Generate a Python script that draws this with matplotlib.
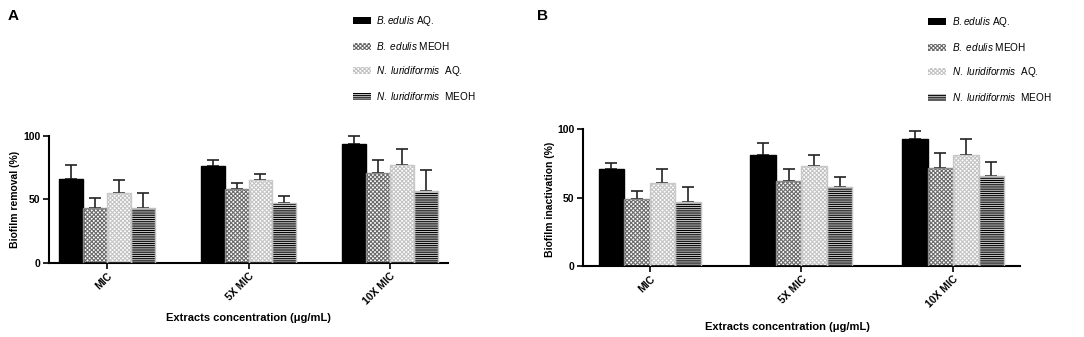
import matplotlib
matplotlib.use('Agg')
import matplotlib.pyplot as plt
import numpy as np

plt.rcParams['font.family'] = ['Liberation Sans', 'DejaVu Sans']
plt.rcParams['mathtext.fontset'] = 'custom'
plt.rcParams['mathtext.rm'] = 'Liberation Sans'
plt.rcParams['mathtext.it'] = 'Liberation Sans:italic'
plt.rcParams['hatch.linewidth'] = 0.8

groups = ['MIC', '5X MIC', '10X MIC']
series = [r'$\it{B.edulis}$ AQ.', r'$\it{B.\ edulis}$ MEOH',
          r'$\it{N.\ luridiformis}$  AQ.', r'$\it{N.\ luridiformis}$  MEOH']

# panel A: biofilm removal (%)
removal = [[66, 76, 94], [43, 58, 71], [55, 65, 77], [43, 47, 57]]
removal_err = [[11, 5, 6], [8, 5, 10], [10, 5, 13], [12, 6, 16]]
# panel B: biofilm inactivation (%)
inact = [[71, 81, 93], [49, 62, 72], [61, 73, 81], [47, 58, 66]]
inact_err = [[4, 9, 6], [6, 9, 11], [10, 8, 12], [11, 7, 10]]

face = ['black', 'white', 'white', 'white']
hatch_col = ['black', '#6a6a6a', '#c4c4c4', '#000000']
hatches = [None, 'xxxxxxxx', 'xxxxxxxx', '---------']
outline = ['black', '#8a8a8a', '#c8c8c8', '#c0c0c0']

fig = plt.figure(figsize=(10.84, 3.37), dpi=100)
axA = fig.add_axes([0.0452, 0.2196, 0.3681, 0.3769])
axB = fig.add_axes([0.5378, 0.2107, 0.4031, 0.4056])


def draw(ax, vals, errs, ylabel, xlim, xlab_xy, ylab_xy):
    x = np.arange(len(groups))
    w = 0.168
    handles = []
    for i in range(4):
        pos = x + (i - 1.5) * w
        b = ax.bar(pos, vals[i], w, color=face[i], edgecolor=hatch_col[i],
                   hatch=hatches[i], linewidth=0, zorder=2)
        ax.bar(pos, vals[i], w, fill=False, edgecolor=outline[i], linewidth=1.0, zorder=3)
        ax.errorbar(pos, vals[i], yerr=[np.zeros(3), errs[i]], fmt='none',
                    ecolor='#222222', elinewidth=1.2, capsize=4.5, capthick=1.2,
                    zorder=1, clip_on=False)
        handles.append(b)
    ax.set_xlim(*xlim)
    ax.set_ylim(0, 100)
    ax.set_yticks([0, 50, 100])
    ax.set_xticks(x)
    ax.set_xticklabels(groups, rotation=45, ha='right', rotation_mode='anchor',
                       fontsize=7.5, fontweight='bold')
    for lab in ax.get_yticklabels():
        lab.set_fontsize(7.5)
        lab.set_fontweight('bold')
    ax.tick_params(axis='both', width=1.2, length=4, pad=2)
    ax.spines['top'].set_visible(False)
    ax.spines['right'].set_visible(False)
    ax.spines['left'].set_linewidth(1.5)
    ax.spines['bottom'].set_linewidth(1.5)
    ax.set_ylabel(ylabel, fontsize=7.5, fontweight='bold')
    ax.set_xlabel(u'Extracts concentration (\u03bcg/mL)', fontsize=8, fontweight='bold')
    ax.xaxis.set_label_coords(*xlab_xy)
    ax.yaxis.set_label_coords(*ylab_xy)
    return handles


hA = draw(axA, removal, removal_err, 'Biofilm removal (%)', (-0.41, 2.41),
          (0.5, -0.39), (-0.072, 0.5))
hB = draw(axB, inact, inact_err, 'Biofilm inactivation (%)', (-0.44, 2.44),
          (0.468, -0.41), (-0.064, 0.49))

legkw = dict(loc='upper left', frameon=False, fontsize=7.2, borderpad=0,
             borderaxespad=0, handlelength=1.75, handleheight=0.8,
             handletextpad=0.6, labelspacing=1.2)
fig.legend(hA, series, bbox_to_anchor=(353 / 1084, 1 - 14 / 337), **legkw)
fig.legend(hB, series, bbox_to_anchor=(928 / 1084, 1 - 15 / 337), **legkw)

fig.text(8 / 1084, 1 - 16 / 337, 'A', fontsize=11, fontweight='bold', va='center')
fig.text(537 / 1084, 1 - 16 / 337, 'B', fontsize=11, fontweight='bold', va='center')

fig.savefig('out.png', dpi=100)
